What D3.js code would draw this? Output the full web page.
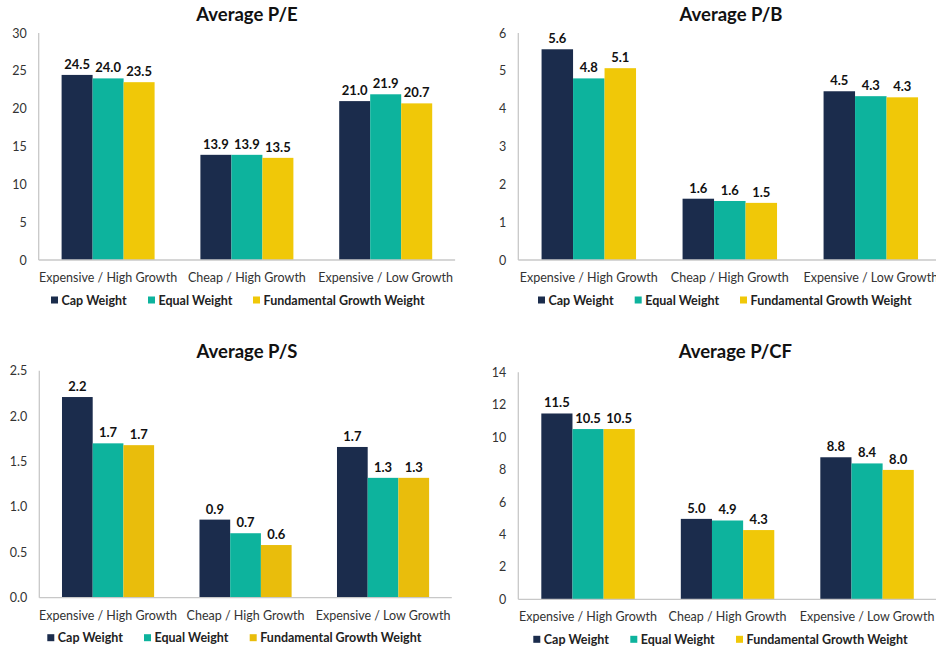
<!DOCTYPE html>
<html>
<head>
<meta charset="utf-8">
<script src="https://cdn.jsdelivr.net/npm/d3@7"></script>
<style>
  body { margin: 0; background: #fff; }
  svg { font-family: Lato, "Open Sans", sans-serif; }
</style>
</head>
<body>
<div id="chart"></div>
<script>
// categories and series
var categories = ["Expensive / High Growth", "Cheap / High Growth", "Expensive / Low Growth"];
var seriesNames = ["Cap Weight", "Equal Weight", "Fundamental Growth Weight"];

// values (cap, equal, fundamental) per category
var pe_cap = [24.46, 13.9, 21.0];
var pe_equal = [24.0, 13.9, 21.9];
var pe_fund = [23.5, 13.5, 20.7];

var pb_cap = [5.57, 1.62, 4.46];
var pb_equal = [4.8, 1.56, 4.33];
var pb_fund = [5.07, 1.51, 4.3];

var ps_cap = [2.21, 0.86, 1.66];
var ps_equal = [1.7, 0.71, 1.32];
var ps_fund = [1.68, 0.58, 1.32];

var pcf_cap = [11.46, 4.96, 8.76];
var pcf_equal = [10.5, 4.86, 8.38];
var pcf_fund = [10.5, 4.27, 7.98];

var pe_ticks = [0, 5, 10, 15, 20, 25, 30];
var pb_ticks = [0, 1, 2, 3, 4, 5, 6];
var ps_ticks = [0, 0.5, 1.0, 1.5, 2.0, 2.5];
var pcf_ticks = [0, 2, 4, 6, 8, 10, 12, 14];

var W = 936, H = 648;
var colors = ["#1b2c4c", "#0db39d", "#f0c808"];

var svg = d3.select("#chart").append("svg")
  .attr("width", W)
  .attr("height", H);

function drawPanel(p) {
  var g = svg.append("g");

  var x = d3.scaleBand()
    .domain(categories)
    .range([p.left, p.left + p.band * 3])
    .paddingInner(0.33)
    .paddingOuter(0.165);

  var xs = d3.scaleBand()
    .domain(seriesNames)
    .range([0, x.bandwidth()]);

  var y = d3.scaleLinear()
    .domain([0, d3.max(p.ticks)])
    .range([p.base, p.top]);

  var rows = categories.map(function(c, i) {
    return { cat: c, vals: p.series.map(function(s) { return s[i]; }) };
  });

  // title
  g.append("text")
    .attr("x", p.titleX)
    .attr("y", p.titleY)
    .attr("text-anchor", "middle")
    .style("font-size", "18.5px")
    .style("font-weight", "bold")
    .style("fill", "#111")
    .text(p.title);

  // y tick labels (no tick marks)
  var yAxis = d3.axisLeft(y).tickValues(p.ticks).tickSize(0).tickPadding(12)
    .tickFormat(d3.format(p.fmt));
  var ya = g.append("g")
    .attr("transform", "translate(" + p.left + ",0)")
    .call(yAxis);
  ya.select(".domain").remove();
  ya.selectAll("text")
    .style("font-size", "12.5px")
    .style("font-family", "Lato, sans-serif")
    .style("fill", "#333");

  // bars
  var grp = g.selectAll(".grp").data(rows).join("g")
    .attr("transform", function(d) { return "translate(" + x(d.cat) + ",0)"; });

  grp.selectAll("rect")
    .data(function(d) { return d.vals.map(function(v, i) { return { v: v, s: seriesNames[i], i: i }; }); })
    .join("rect")
    .attr("x", function(d) { return xs(d.s); })
    .attr("y", function(d) { return y(d.v); })
    .attr("width", xs.bandwidth())
    .attr("height", function(d) { return p.base - y(d.v); })
    .style("fill", function(d) { return p.colors[d.i]; });

  grp.selectAll("text")
    .data(function(d) { return d.vals.map(function(v, i) { return { v: v, s: seriesNames[i] }; }); })
    .join("text")
    .attr("x", function(d) { return xs(d.s) + xs.bandwidth() / 2; })
    .attr("y", function(d) { return y(d.v) - 6; })
    .attr("text-anchor", "middle")
    .style("font-size", "13px")
    .style("font-weight", "bold")
    .style("fill", "#111")
    .text(function(d) { return d3.format(".1f")(d.v); });

  // axis lines
  g.append("line")
    .attr("x1", p.left).attr("x2", p.left)
    .attr("y1", p.top).attr("y2", p.base)
    .style("stroke", "#c8c8c8").style("stroke-width", 1.3);
  g.append("line")
    .attr("x1", p.left).attr("x2", p.left + p.band * 3)
    .attr("y1", p.base).attr("y2", p.base)
    .style("stroke", "#c8c8c8").style("stroke-width", 1.3);

  // category labels
  g.selectAll(".cat").data(categories).join("text")
    .attr("x", function(d) { return x(d) + x.bandwidth() / 2; })
    .attr("y", p.base + 22)
    .attr("text-anchor", "middle")
    .style("font-size", "12.5px")
    .style("fill", "#333")
    .text(function(d) { return d; });

  // legend
  var lg = g.selectAll(".lg").data(seriesNames).join("g")
    .attr("transform", function(d, i) { return "translate(" + p.legendX[i] + "," + (p.base + 40) + ")"; });
  lg.append("rect")
    .attr("x", 0).attr("y", -3.5)
    .attr("width", 7).attr("height", 7)
    .style("fill", function(d, i) { return p.colors[i]; });
  lg.append("text")
    .attr("x", 10.5).attr("y", 4.5)
    .style("font-size", "12.5px")
    .style("font-weight", "bold")
    .style("fill", "#222")
    .text(function(d) { return d; });
}

var panels = [
  { title: "Average P/E", series: [pe_cap, pe_equal, pe_fund], ticks: pe_ticks, fmt: "d",
    left: 38.7, base: 260, top: 33, band: 138.8, titleX: 247, titleY: 21,
    legendX: [51, 148, 253], colors: colors },
  { title: "Average P/B", series: [pb_cap, pb_equal, pb_fund], ticks: pb_ticks, fmt: "d",
    left: 518.3, base: 260, top: 33, band: 141, titleX: 731, titleY: 21,
    legendX: [538, 634.7, 740], colors: colors },
  { title: "Average P/S", series: [ps_cap, ps_equal, ps_fund], ticks: ps_ticks, fmt: ".1f",
    left: 39.3, base: 597.7, top: 370.7, band: 137.5, titleX: 247, titleY: 358,
    legendX: [47.3, 144, 249.7], colors: ["#1b2c4c", "#0db39d", "#e9bd0c"] },
  { title: "Average P/CF", series: [pcf_cap, pcf_equal, pcf_fund], ticks: pcf_ticks, fmt: "d",
    left: 518.3, base: 599.3, top: 372.3, band: 139.5, titleX: 735.3, titleY: 358,
    legendX: [533.3, 630.3, 736], colors: colors }
];

panels.forEach(drawPanel);
</script>
</body>
</html>
